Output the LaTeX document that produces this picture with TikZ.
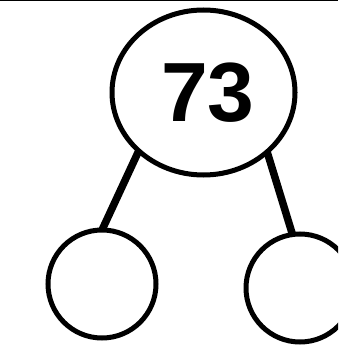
\documentclass[tikz,border=0pt]{standalone}
\usepackage{fontspec}
\setmainfont{Liberation Sans}
\usetikzlibrary{shapes.geometric}
\begin{document}
\begin{tikzpicture}[x=1pt,y=-1pt,
  bubble/.style={draw=black, line width=5pt, inner sep=0pt, outer sep=0pt},
  link/.style={draw=black, line width=7.5pt}]
\useasboundingbox (0,0) rectangle (338,347);
\clip (0,0) rectangle (338,347);
\draw[line width=1.5pt] (0,0.75) -- (338,0.75);
\node[bubble, ellipse, minimum width=183pt, minimum height=165pt,
      font=\fontsize{84}{84}\selectfont\bfseries] (top) at (203.5,92.5) {\hspace*{9pt}73};
\node[bubble, circle, minimum size=108pt] (L) at (102,284) {};
\node[bubble, circle, minimum size=108pt] (R) at (300,288) {};
\draw[link] (top.222) -- (L.north);
\draw[link] (top.317) -- (R.98);
\end{tikzpicture}
\end{document}
